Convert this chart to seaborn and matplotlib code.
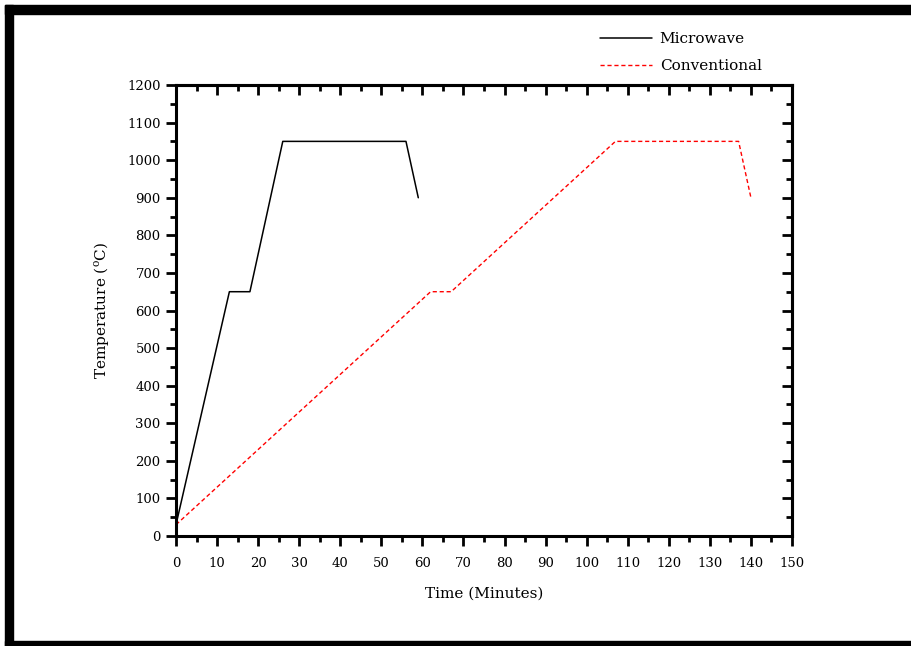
import numpy as np
import pandas as pd
import matplotlib
matplotlib.use("Agg")
import matplotlib.pyplot as plt
import matplotlib.ticker as mticker
from matplotlib.patches import Rectangle
import seaborn as sns

# ── Data ───────────────────────────────────────────────
mw_time = [0, 13, 18, 26, 56, 59]
mw_temp = [30, 650, 650, 1050, 1050, 900]
cv_time = [0, 62, 67, 107, 137, 140]
cv_temp = [30, 650, 650, 1050, 1050, 900]

x_ticks = list(range(0, 151, 10))
y_ticks = list(range(0, 1201, 100))

# ── Style ──────────────────────────────────────────────
sns.set_style("ticks")
plt.rcParams.update({
    "font.family": ["DejaVu Serif"],
    "font.size": 10,
    "mathtext.fontset": "dejavuserif",
    "text.color": "black",
    "axes.labelcolor": "black",
    "xtick.color": "black",
    "ytick.color": "black",
    "xtick.labelcolor": "black",
    "ytick.labelcolor": "black",
})

df_mw = pd.DataFrame({"Time": mw_time, "Temp": mw_temp})
df_cv = pd.DataFrame({"Time": cv_time, "Temp": cv_temp})

fig = plt.figure(figsize=(9.12, 6.46), dpi=100)
ax = fig.add_axes([176 / 912, 1 - 536 / 646, (792 - 176) / 912, (536 - 85) / 646])

sns.lineplot(data=df_mw, x="Time", y="Temp", ax=ax, color="black",
             linewidth=1.1, sort=False, label="Microwave")
sns.lineplot(data=df_cv, x="Time", y="Temp", ax=ax, color="red",
             linewidth=1.0, sort=False, label="Conventional",
             linestyle=(0, (3, 2)))

ax.set_xlim(0, 150)
ax.set_ylim(0, 1200)
ax.set_xticks(x_ticks)
ax.set_yticks(y_ticks)
ax.xaxis.set_minor_locator(mticker.MultipleLocator(5))
ax.yaxis.set_minor_locator(mticker.MultipleLocator(50))

for s in ax.spines.values():
    s.set_visible(True)
    s.set_linewidth(2.2)
    s.set_color("black")

ax.tick_params(which="major", direction="out", length=7, width=2, labelsize=9.5)
ax.tick_params(which="minor", direction="out", length=4, width=2)
ax.tick_params(axis="x", which="major", pad=8)
ax.tick_params(axis="y", which="major", pad=4)

# inward ticks on top and right
top = ax.secondary_xaxis("top")
top.set_xticks(x_ticks)
top.xaxis.set_minor_locator(mticker.MultipleLocator(5))
top.tick_params(which="major", direction="in", length=7, width=2, labeltop=False)
top.tick_params(which="minor", direction="in", length=4, width=2)
top.spines["top"].set_linewidth(2.2)
right = ax.secondary_yaxis("right")
right.set_yticks(y_ticks)
right.yaxis.set_minor_locator(mticker.MultipleLocator(50))
right.tick_params(which="major", direction="in", length=7, width=2, labelright=False)
right.tick_params(which="minor", direction="in", length=4, width=2)
right.spines["right"].set_linewidth(2.2)

ax.set_xlabel("Time (Minutes)", fontsize=11, labelpad=12)
ax.set_ylabel("Temperature ($^{\\mathrm{o}}$C)", fontsize=11, labelpad=12)

ax.legend(loc="upper left", bbox_to_anchor=(594 / 912, 1 - 26 / 646),
          bbox_transform=fig.transFigure, frameon=False, fontsize=11,
          handlelength=3.4, handletextpad=0.5, labelspacing=0.85,
          borderaxespad=0)

# outer frame
fig.patches.append(Rectangle((5 / 912, 0), 8 / 912, 1 - 5 / 646,
                             transform=fig.transFigure, color="black"))
fig.patches.append(Rectangle((5 / 912, 1 - 14 / 646), 1, 9 / 646,
                             transform=fig.transFigure, color="black"))
fig.patches.append(Rectangle((5 / 912, 0), 1, 5 / 646,
                             transform=fig.transFigure, color="black"))

fig.savefig("out.png", dpi=100)
